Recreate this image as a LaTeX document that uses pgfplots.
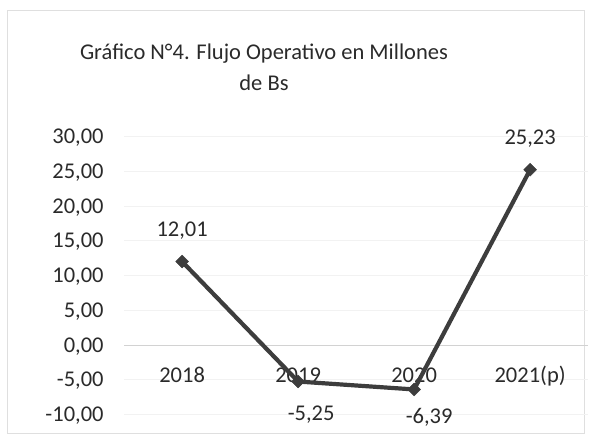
\documentclass[border=0pt]{standalone}
\usepackage{fontspec}
\setmainfont{Carlito}
\usepackage{pgfplots}
\pgfplotsset{compat=1.18}
\usepackage{pgfplotstable}

\definecolor{serie}{HTML}{3D3D3D}
\definecolor{texto}{HTML}{2A2A2A}

% x, valor, desplazamiento de la etiqueta
\pgfplotstableread{
x   y      dx   dy
0   12.01  0    31
1   -5.25  13   -33
2   -6.39  15   -28
3   25.23  0    31
}\flujo

\begin{document}
\begin{tikzpicture}[x=1pt,y=1pt]
\useasboundingbox (0,0) rectangle (589,434);
\draw[gray!25, line width=0.8pt] (7,1) rectangle (584,424);
\node[texto, font=\fontsize{22.5}{31}\selectfont, align=center] at (264,367)
  {Gráfico N°4. Flujo Operativo en Millones\\de Bs};
\begin{axis}[
  at={(107,28)}, anchor=south west,
  scale only axis, width=464pt, height=278pt,
  xmin=-0.5, xmax=3.5, ymin=-10, ymax=30,
  axis x line=middle, axis y line=left,
  x axis line style={draw=gray!35, line width=0.8pt, -},
  y axis line style={draw=none},
  major tick length=0pt,
  xtick={0,1,2,3},
  xticklabels={2018,2019,2020,2021(p)},
  ytick={-10,-5,...,30},
  ymajorgrids, grid style={gray!10, line width=0.6pt},
  ticklabel style={font=\fontsize{22.5}{27}\selectfont, text=texto},
  xticklabel style={anchor=base, yshift=-37pt},
  yticklabel style={anchor=base east, xshift=-17pt, yshift=-7pt},
  /pgf/number format/.cd, use comma, fixed, fixed zerofill, precision=2, 1000 sep={}, assume math mode=true,
  /pgfplots/.cd,
  clip=false,
]
\addplot[serie, line width=4.2pt, mark=square*, mark size=4.5pt,
  mark options={serie, rotate=45, line width=0.5pt},
  nodes near coords,
  visualization depends on={\thisrow{dx}\as\dx},
  visualization depends on={\thisrow{dy}\as\dy},
  every node near coord/.append style={anchor=center, xshift=\dx pt, yshift=\dy pt,
    font=\fontsize{22.5}{27}\selectfont, text=texto},
] table[x=x, y=y] {\flujo};
\end{axis}
\end{tikzpicture}
\end{document}
